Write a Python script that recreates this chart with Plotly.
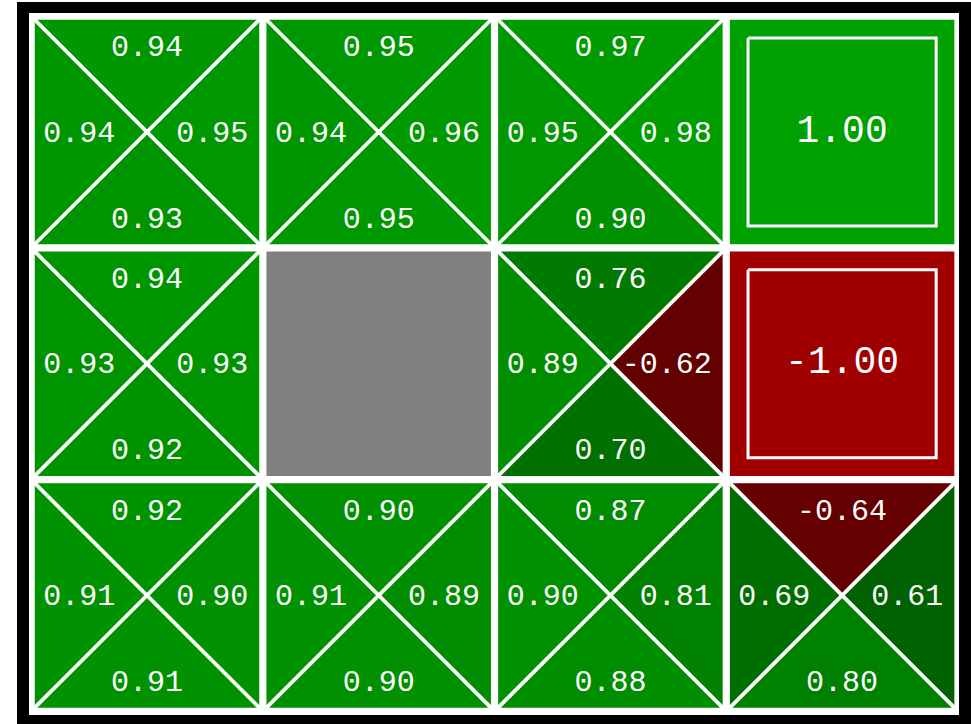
import plotly.graph_objects as go

# ---------------- data ----------------
n_rows = 3
n_cols = 4
# Q-values per cell for each action; None = wall / terminal
q_north = [[0.94, 0.95, 0.97, None],
           [0.94, None, 0.76, None],
           [0.92, 0.90, 0.87, -0.64]]
q_east = [[0.95, 0.96, 0.98, None],
          [0.93, None, -0.62, None],
          [0.90, 0.89, 0.81, 0.61]]
q_south = [[0.93, 0.95, 0.90, None],
           [0.92, None, 0.70, None],
           [0.91, 0.90, 0.88, 0.80]]
q_west = [[0.94, 0.94, 0.95, None],
          [0.93, None, 0.89, None],
          [0.91, 0.91, 0.90, 0.69]]
terminals = {(0, 3): 1.00, (1, 3): -1.00}
walls = [(1, 1)]

# ---------------- geometry (pixel calibration) ----------------
W, H = 971, 724
PITCH = 231.7
X0, Y0 = 31.15, 16.15


def px_x(p):
    return (p - X0) / PITCH


def px_y(p):
    return (p - Y0) / PITCH


INSET = 3.6 / PITCH
TXT_DY = 2.0 / PITCH


def color_for(v):
    if v >= 0:
        return "rgb(0,%d,0)" % round(160 * v)
    return "rgb(%d,0,0)" % round(-160 * v)


FONT = "Liberation Mono"
fig = go.Figure()


def add_text(xs, ys, texts, pos, size):
    fig.add_trace(go.Scatter(x=xs, y=ys, mode="text", text=texts, textposition=pos,
                             textfont=dict(family=FONT, size=size, color="white"),
                             hoverinfo="skip"))


for r in range(n_rows):
    for c in range(n_cols):
        tl = (c + INSET, r + INSET)
        tr = (c + 1 - INSET, r + INSET)
        br = (c + 1 - INSET, r + 1 - INSET)
        bl = (c + INSET, r + 1 - INSET)
        ctr = (c + 0.5, r + 0.5)
        if (r, c) in walls:
            pts = [tl, tr, br, bl, tl]
            fig.add_trace(go.Scatter(x=[p[0] for p in pts], y=[p[1] for p in pts],
                                     fill="toself", fillcolor="#808080",
                                     mode="lines", line=dict(width=0), hoverinfo="skip"))
            continue
        if (r, c) in terminals:
            v = terminals[(r, c)]
            pts = [tl, tr, br, bl, tl]
            fig.add_trace(go.Scatter(x=[p[0] for p in pts], y=[p[1] for p in pts],
                                     fill="toself", fillcolor=color_for(v),
                                     mode="lines", line=dict(width=0), hoverinfo="skip"))
            h = 0.406
            sq = [(c + 0.5 - h, r + 0.5 - h), (c + 0.5 + h, r + 0.5 - h),
                  (c + 0.5 + h, r + 0.5 + h), (c + 0.5 - h, r + 0.5 + h),
                  (c + 0.5 - h, r + 0.5 - h)]
            fig.add_trace(go.Scatter(x=[p[0] for p in sq], y=[p[1] for p in sq],
                                     mode="lines", line=dict(width=3, color="white"),
                                     hoverinfo="skip"))
            add_text([c + 0.5], [r + 0.5], ["%.2f" % v], "middle center", 38)
            continue
        tris = [
            (q_north[r][c], [tl, tr, ctr, tl]),
            (q_east[r][c], [tr, br, ctr, tr]),
            (q_south[r][c], [br, bl, ctr, br]),
            (q_west[r][c], [bl, tl, ctr, bl]),
        ]
        for v, pts in tris:
            fig.add_trace(go.Scatter(x=[p[0] for p in pts], y=[p[1] for p in pts],
                                     fill="toself", fillcolor=color_for(v),
                                     mode="lines", line=dict(width=0), hoverinfo="skip"))
        fig.add_trace(go.Scatter(x=[tl[0], br[0], None, tr[0], bl[0]],
                                 y=[tl[1], br[1], None, tr[1], bl[1]],
                                 mode="lines", line=dict(width=3.8, color="white"),
                                 hoverinfo="skip"))
        # north / south centred
        add_text([c + 0.5, c + 0.5],
                 [r + 0.5 - 0.368 + TXT_DY, r + 0.5 + 0.372 + TXT_DY],
                 ["%.2f" % q_north[r][c], "%.2f" % q_south[r][c]], "middle center", 30)
        # east: right-aligned near the right edge
        add_text([c + 1 - (3.6 + 11) / PITCH], [r + 0.5 + TXT_DY],
                 ["%.2f" % q_east[r][c]], "middle left", 30)
        # west: left-aligned near the left edge
        add_text([c + (3.6 + 8.5) / PITCH], [r + 0.5 + TXT_DY],
                 ["%.2f" % q_west[r][c]], "middle right", 30)

shapes = [
    dict(type="rect", xref="x", yref="y", layer="below",
         x0=px_x(17), x1=px_x(W + 5), y0=px_y(2), y1=px_y(H + 5),
         fillcolor="black", line=dict(width=0)),
    dict(type="rect", xref="x", yref="y", layer="below",
         x0=px_x(29), x1=px_x(959), y0=px_y(13), y1=px_y(715),
         fillcolor="white", line=dict(width=0)),
]

fig.update_layout(
    width=W, height=H,
    margin=dict(l=0, r=0, t=0, b=0),
    paper_bgcolor="white", plot_bgcolor="white",
    showlegend=False,
    shapes=shapes,
    xaxis=dict(range=[px_x(0), px_x(W)], visible=False, fixedrange=True),
    yaxis=dict(range=[px_y(H), px_y(0)], visible=False, fixedrange=True),
)

fig.write_html("out.html", config={"displayModeBar": False},
               post_script="document.body.style.margin='0';document.body.style.overflow='hidden';")
